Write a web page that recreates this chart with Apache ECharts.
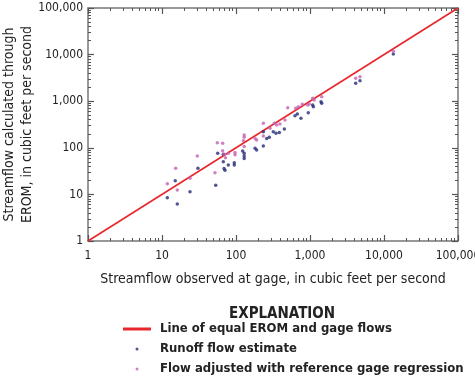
<!DOCTYPE html>
<html>
<head>
<meta charset="utf-8">
<script src="https://cdn.jsdelivr.net/npm/echarts@6/dist/echarts.min.js"></script>
<style>
html,body{margin:0;padding:0;background:#fff;}
#chart{width:475px;height:378px;}
</style>
</head>
<body>
<div id="chart"></div>
<script>
var FONT = '"Liberation Sans Narrow","DejaVu Sans Condensed",sans-serif';

// 图例名称
var lineName = 'Line of equal EROM and gage flows';
var runoffName = 'Runoff flow estimate';
var adjName = 'Flow adjusted with reference gage regression';

// 等值线端点
var equalLine = [[1, 1], [100000, 100000]];

// 径流估算 [观测, 计算]
var runoffObs = [11.8, 15.1, 16.1, 23.9, 30.6, 53.2, 56.6, 67.4, 67.4, 69, 71, 78.7, 94.8, 94.8, 123, 129, 129, 129,
    181, 190, 234, 234, 260, 282, 319, 347, 385, 450, 627, 674, 755, 948, 1087, 1110, 1408, 1439, 4145, 4740, 13360];
var runoffCalc = [8.5, 19.7, 6.2, 11.4, 36.3, 15.7, 76, 72.5, 50, 36, 33, 42.7, 48, 42.7, 85, 76, 67, 59,
    97.5, 89.6, 109, 222, 159, 168, 222, 204, 214, 253, 488, 531, 430, 566, 829, 762, 975, 902, 2420, 2755, 10300];

// 参考站回归调整
var adjObs = [11.8, 15.3, 16.1, 23.9, 30, 52, 55.9, 66, 66, 69, 72, 78.7, 97, 97, 126, 129, 129, 129,
    181, 190, 234, 234, 288, 330, 354, 392, 459, 500, 641, 695, 787, 929, 978, 1087, 1140, 1439, 4145, 4740, 13360];
var adjCalc = [17, 36.3, 12.4, 22.1, 66.7, 29.2, 129, 125, 86.7, 72.5, 61.3, 76, 79, 71, 142, 188, 168, 106,
    159, 147, 336, 179, 262, 336, 308, 324, 395, 726, 704, 762, 857, 829, 871, 1153, 1062, 1250, 3100, 3357, 11800];

function pairs(a, b) {
    var out = [];
    for (var i = 0; i < a.length; i++) out.push([a[i], b[i]]);
    return out;
}

function fmt(v) {
    return String(Math.round(v)).replace(/\B(?=(\d{3})+(?!\d))/g, ',');
}

function logAxis(pos, showLabel, extra) {
    var ax = {
        type: 'log',
        min: 1,
        max: 100000,
        interval: 1,
        position: pos,
        axisLine: {show: true, onZero: false, lineStyle: {color: '#777', width: 1.5}},
        axisTick: {show: true, inside: true, length: 6, lineStyle: {color: '#555', width: 1.2}},
        minorTick: {show: true, splitNumber: 9, length: 3, lineStyle: {color: '#555', width: 1}},
        splitLine: {show: false},
        axisLabel: {
            show: showLabel,
            color: '#222',
            fontFamily: FONT,
            fontSize: 12,
            formatter: fmt
        }
    };
    for (var k in extra) ax[k] = extra[k];
    return ax;
}

var myChart = echarts.init(document.getElementById('chart'), null, {renderer: 'canvas'});
var option = {
    animation: false,
    title: {
        text: 'EXPLANATION',
        left: 224,
        top: 302,
        textStyle: {fontFamily: FONT, fontSize: 15, fontWeight: 'bold', color: '#222'}
    },
    legend: {
        orient: 'vertical',
        left: 123,
        top: 322,
        padding: 0,
        itemWidth: 28,
        itemHeight: 3,
        itemGap: 6,
        textStyle: {fontFamily: FONT, fontSize: 13, lineHeight: 14, fontWeight: 'bold', color: '#222', padding: [0, 0, 0, 4]},
        data: [
            {name: lineName, icon: 'rect'},
            {name: runoffName, icon: 'circle'},
            {name: adjName, icon: 'circle'}
        ]
    },
    grid: {left: 88, right: 17, top: 8, bottom: 137, outerBoundsMode: 'none', containLabel: false},
    xAxis: [
        logAxis('bottom', true, {
            name: 'Streamflow observed at gage, in cubic feet per second',
            nameLocation: 'middle',
            nameGap: 31,
            nameTextStyle: {fontFamily: FONT, fontSize: 14, color: '#222'},
            axisLabel: {show: true, color: '#222', fontFamily: FONT, fontSize: 12, margin: 9, formatter: fmt}
        }),
        logAxis('top', false, {})
    ],
    yAxis: [
        logAxis('left', true, {
            name: 'Streamflow calculated through\nEROM, in cubic feet per second',
            nameLocation: 'middle',
            nameGap: 52,
            nameMoveOverlap: false,
            nameTextStyle: {fontFamily: FONT, fontSize: 14, color: '#222', lineHeight: 18},
            axisLabel: {show: true, color: '#222', fontFamily: FONT, fontSize: 12, margin: 5, formatter: fmt}
        }),
        logAxis('right', false, {})
    ],
    series: [
        {
            name: lineName,
            type: 'line',
            data: equalLine,
            symbol: 'none',
            lineStyle: {color: '#e8262b', width: 1.6},
            itemStyle: {color: '#e8262b'},
            z: 3
        },
        {
            name: runoffName,
            type: 'scatter',
            data: pairs(runoffObs, runoffCalc),
            symbol: 'circle',
            symbolSize: 3.5,
            itemStyle: {color: '#262a78'},
            z: 4
        },
        {
            name: adjName,
            type: 'scatter',
            data: pairs(adjObs, adjCalc),
            symbol: 'circle',
            symbolSize: 3.5,
            itemStyle: {color: '#c462b2'},
            z: 4
        }
    ]
};
myChart.setOption(option);
</script>
</body>
</html>
